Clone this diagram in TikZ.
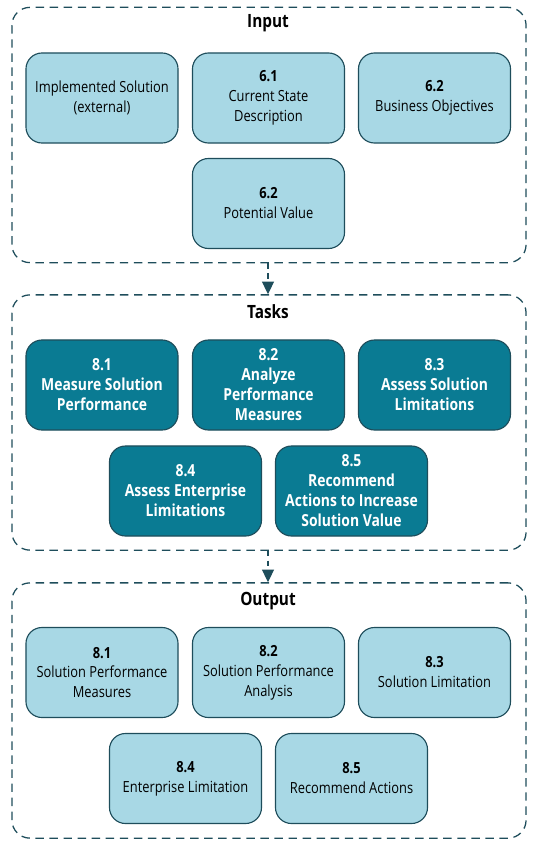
\documentclass[tikz,border=0pt]{standalone}
\usepackage{fontspec}
\setmainfont[FakeStretch=0.84]{Open Sans}
\usepackage{tikz}
\usetikzlibrary{arrows.meta,positioning}
\definecolor{boxlight}{HTML}{A8D8E5}
\definecolor{boxdark}{HTML}{0A7B93}
\definecolor{rimcol}{HTML}{1E4D5B}

\begin{document}
\begin{tikzpicture}[x=0.025cm,y=-0.025cm,
  group/.style={draw=rimcol,line width=0.9pt,dash pattern=on 6pt off 4pt,
    rounded corners=0.45cm,minimum width=12.85cm,minimum height=6.38cm},
  grouptitle/.style={font=\fontsize{13}{15}\selectfont\bfseries},
  inbox/.style={draw=rimcol,fill=boxlight,line width=0.8pt,rounded corners=0.4cm,
    minimum width=3.8cm,minimum height=2.25cm,align=center,
    font=\fontsize{10.9}{14.2}\selectfont},
  taskbox/.style={inbox,fill=boxdark,text=white,font=\fontsize{11.8}{14.2}\selectfont\bfseries},
  flow/.style={draw=rimcol,line width=0.9pt,dash pattern=on 4pt off 3pt,
    -{Triangle[length=9pt,width=8.5pt]}}]
\useasboundingbox (0,0) rectangle (535,847);

% containers
\node[group] (input) at (269,135) {};
\node[group] (tasks) at (269,422.5) {};
\node[group] (output) at (269,710.5) {};
\node[grouptitle] (inputtitle) at (268,23) {Input};
\node[grouptitle] (taskstitle) at (268,312) {Tasks};
\node[grouptitle] (outputtitle) at (268,601) {Output};

% input
\node[inbox] (implsol) at (102,98) {Implemented Solution\\(external)};
\node[inbox] (curstate) at (268.5,98) {\textbf{6.1}\\Current State\\Description};
\node[inbox] (busobj) at (434.5,98) {\textbf{6.2}\\Business Objectives};
\node[inbox] (potval) at (268.5,203.5) {\textbf{6.2}\\Potential Value};

% tasks
\node[taskbox] (measure) at (102,385) {8.1\\Measure Solution\\Performance};
\node[taskbox] (analyze) at (268.5,385) {8.2\\Analyze\\Performance\\Measures};
\node[taskbox] (assesssol) at (434.5,385) {8.3\\Assess Solution\\Limitations};
\node[taskbox] (assessent) at (185.5,491) {8.4\\Assess Enterprise\\Limitations};
\node[taskbox] (recommend) at (351.5,491) {8.5\\Recommend\\Actions to Increase\\Solution Value};

% output
\node[inbox] (perfmeas) at (102,672.5) {\textbf{8.1}\\Solution Performance\\Measures};
\node[inbox] (perfanal) at (268.5,672.5) {\textbf{8.2}\\Solution Performance\\Analysis};
\node[inbox] (sollim) at (434.5,672.5) {\textbf{8.3}\\Solution Limitation};
\node[inbox] (entlim) at (185.5,778.5) {\textbf{8.4}\\Enterprise Limitation};
\node[inbox] (recact) at (351.5,778.5) {\textbf{8.5}\\Recommend Actions};

\draw[flow] (input.south -| inputtitle) -- (tasks.north -| inputtitle);
\draw[flow] (tasks.south -| taskstitle) -- (output.north -| taskstitle);
\end{tikzpicture}
\end{document}
